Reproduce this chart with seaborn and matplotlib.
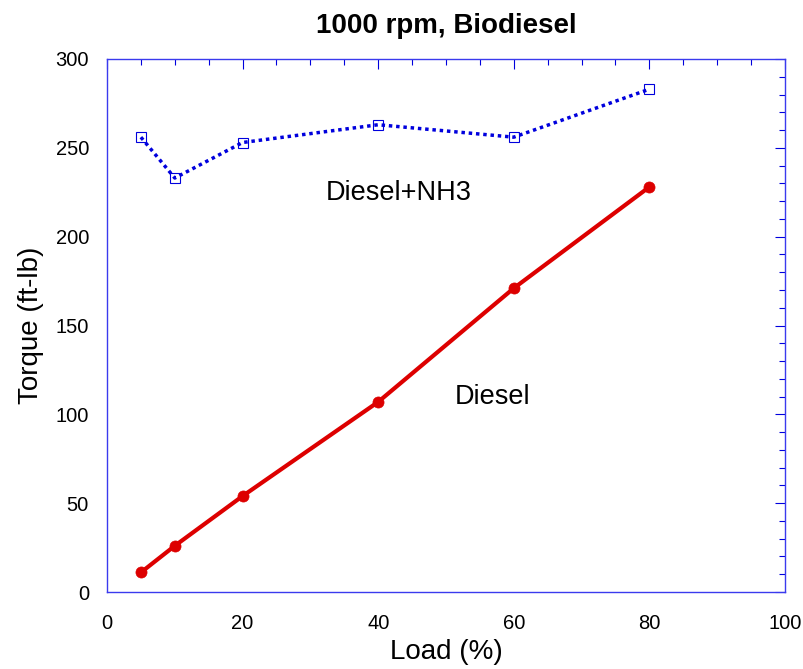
import matplotlib
matplotlib.use("Agg")
import matplotlib.pyplot as plt
from matplotlib.ticker import MultipleLocator
import seaborn as sns
import pandas as pd

# Engine load (%) and measured torque (ft-lb)
load = [5, 10, 20, 40, 60, 80]
torque_diesel = [11, 26, 54, 107, 171, 228]
torque_nh3 = [256, 233, 253, 263, 256, 283]

x_ticks = [0, 20, 40, 60, 80, 100]
y_ticks = [0, 50, 100, 150, 200, 250, 300]

sns.set_theme(style="white")
plt.rcParams["font.family"] = ["Liberation Sans", "DejaVu Sans"]
plt.rcParams["text.color"] = "black"
plt.rcParams["axes.labelcolor"] = "black"

blue = "#0000dd"
red = "#dd0000"
frame = "#3a3aee"

df = pd.DataFrame({"load": load, "diesel": torque_diesel, "nh3": torque_nh3})

fig = plt.figure(figsize=(8.04, 6.69), dpi=100)
ax = fig.add_axes([107 / 804, 1 - 592 / 669, 678 / 804, 533 / 669])

sns.lineplot(data=df, x="load", y="nh3", ax=ax, color=blue,
             linewidth=2.5, linestyle=(0, (1, 1.1)),
             marker="s", markersize=7.8, markerfacecolor="none",
             markeredgecolor=blue, markeredgewidth=0.8)
sns.lineplot(data=df, x="load", y="diesel", ax=ax, color=red,
             linewidth=3.0, marker="o", markersize=8,
             markerfacecolor=red, markeredgecolor=red, markeredgewidth=0.5)

ax.set_xlim(0, 100)
ax.set_ylim(0, 300)
ax.set_xticks(x_ticks)
ax.set_yticks(y_ticks)
ax.xaxis.set_minor_locator(MultipleLocator(5))
ax.yaxis.set_minor_locator(MultipleLocator(10))

ax.tick_params(which="both", direction="in", top=True, right=True,
               color=blue, width=0.8, labelsize=14.5, labelcolor="black")
ax.tick_params(axis="x", which="both", pad=16)
ax.tick_params(axis="y", which="both", pad=13)
ax.tick_params(which="major", length=7.5)
ax.tick_params(which="minor", length=4.3)

for s in ax.spines.values():
    s.set_color(frame)
    s.set_linewidth(1.0)

ax.set_xlabel("Load (%)", fontsize=20)
ax.set_ylabel("Torque (ft-lb)", fontsize=20)
ax.xaxis.set_label_coords(0.5, -0.088)
ax.yaxis.set_label_coords(-0.093, 0.5)
ax.set_title("1000 rpm, Biodiesel", fontsize=20, fontweight="bold", pad=19)

ax.text(43.1, 224.5, "Diesel+NH3", fontsize=19.5, ha="center", va="center")
ax.text(56.8, 110, "Diesel", fontsize=19.5, ha="center", va="center")

fig.savefig("out.png", dpi=100)
